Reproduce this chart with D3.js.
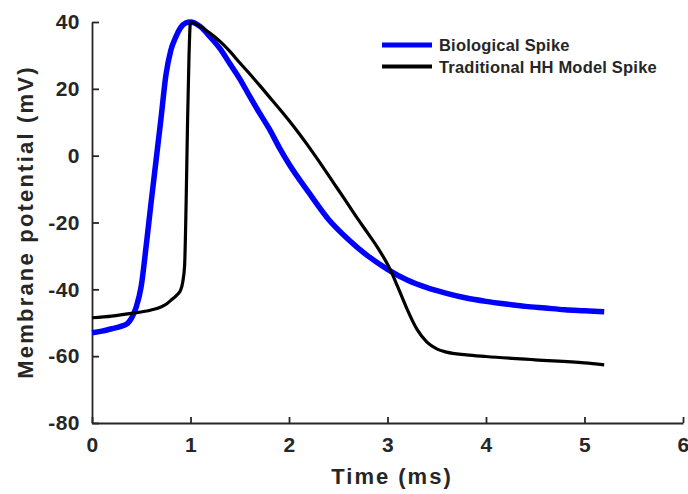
<!DOCTYPE html>
<html>
<head>
<meta charset="utf-8">
<script src="https://cdn.jsdelivr.net/npm/d3@7"></script>
<style>
  html, body { margin: 0; padding: 0; background: #fff; }
  svg { display: block; }
  text { font-family: "Liberation Sans", Arial, Helvetica, sans-serif; font-weight: bold; fill: #262626; }
</style>
</head>
<body>
<svg id="chart" width="688" height="494"></svg>
<script>
// Recorded biological action potential (time in ms, potential in mV)
const bioTime = [0, 0.1, 0.2, 0.3, 0.36, 0.40, 0.45, 0.50, 0.55, 0.60, 0.65, 0.70, 0.75, 0.80, 0.85, 0.90, 0.95, 1.00,
  1.10, 1.20, 1.30, 1.40, 1.50, 1.60, 1.70, 1.80, 1.90, 2.00, 2.20, 2.40, 2.60, 2.80, 3.00, 3.20, 3.40, 3.60, 3.80,
  4.00, 4.20, 4.40, 4.60, 4.80, 5.00, 5.20];
const bioVoltage = [-53, -52.5, -51.8, -51, -50.2, -48.7, -45.2, -39, -27, -14, -1.5, 11, 24, 31.5, 35.5, 38.3, 39.7, 40,
  38.6, 35.5, 32, 27.5, 23, 17.8, 12.8, 8, 2.5, -2.5, -11, -19, -25, -30, -34, -37.2, -39.5, -41.2, -42.6,
  -43.6, -44.4, -45.1, -45.6, -46.1, -46.4, -46.7];

// Classic Hodgkin-Huxley model spike
const hhTime = [0, 0.2, 0.4, 0.6, 0.7, 0.76, 0.82, 0.87, 0.9, 0.92, 0.94, 0.955, 0.97, 0.985, 1.00,
  1.10, 1.20, 1.30, 1.40, 1.50, 1.60, 1.70, 1.80, 1.90, 2.00, 2.10, 2.20, 2.30, 2.40, 2.50, 2.60, 2.70, 2.80, 2.90,
  3.00, 3.05, 3.10, 3.15, 3.20, 3.30, 3.40, 3.50, 3.60, 3.80, 4.00, 4.50, 5.00, 5.20];
const hhVoltage = [-48.5, -48, -47.2, -46.2, -45.3, -44.3, -42.8, -41.5, -40.2, -38, -33, -15, 10, 30, 40,
  38.6, 36.6, 34.2, 31.2, 27.8, 24.5, 21.1, 17.6, 14.1, 10.5, 6.7, 2.7, -1.5, -5.8, -10.2, -14.6, -19, -23.2, -27.5,
  -32.5, -35.5, -39, -42.5, -46, -52, -55.8, -57.8, -58.8, -59.6, -60.1, -61.1, -62, -62.6];

const xTicks = [0, 1, 2, 3, 4, 5, 6];
const yTicks = [-80, -60, -40, -20, 0, 20, 40];

const seriesNames = ["Biological Spike", "Traditional HH Model Spike"];
const seriesColors = ["#0000ff", "#000000"];

const svg = d3.select("#chart");
const margin = { left: 92, top: 22, right: 5, bottom: 71 };
const W = 688, H = 494;

const x = d3.scaleLinear().domain([0, 6]).range([margin.left, W - margin.right]);
const y = d3.scaleLinear().domain([-80, 40]).range([H - margin.bottom, margin.top]);

const axisColor = "#262626";
const plainNumber = d => String(d);

// Axes with inward ticks
const xAxis = svg.append("g")
  .attr("transform", `translate(0,${y(-80)})`)
  .call(d3.axisBottom(x).tickValues(xTicks).tickFormat(plainNumber)
    .tickSizeInner(-6).tickSizeOuter(0).tickPadding(14));
const yAxis = svg.append("g")
  .attr("transform", `translate(${x(0)},0)`)
  .call(d3.axisLeft(y).tickValues(yTicks).tickFormat(plainNumber)
    .tickSizeInner(-7).tickSizeOuter(0).tickPadding(12));

[xAxis, yAxis].forEach(g => {
  g.select(".domain").attr("stroke", axisColor).attr("stroke-width", 1.8);
  g.selectAll(".tick line").attr("stroke", axisColor).attr("stroke-width", 1.8);
  g.selectAll(".tick text")
    .style("font-family", '"Liberation Sans", Arial, sans-serif')
    .style("font-weight", "bold")
    .style("font-size", "21px")
    .style("letter-spacing", "0.5px")
    .attr("fill", axisColor);
});
xAxis.selectAll(".tick text").attr("dy", "0.71em");

// Axis titles
svg.append("text")
  .attr("x", 392).attr("y", 484)
  .attr("text-anchor", "middle")
  .style("font-size", "22px")
  .style("letter-spacing", "2px")
  .text("Time (ms)");

svg.append("text")
  .attr("transform", `translate(33,${222}) rotate(-90)`)
  .attr("text-anchor", "middle")
  .style("font-size", "22px")
  .style("letter-spacing", "2.2px")
  .text("Membrane potential (mV)");

// Traces
const line = d3.line()
  .x(d => x(d[0]))
  .y(d => y(d[1]))
  .curve(d3.curveMonotoneX);

const bio = bioTime.map((t, i) => [t, bioVoltage[i]]);
const hh = hhTime.map((t, i) => [t, hhVoltage[i]]);

svg.append("path")
  .datum(bio)
  .attr("d", line)
  .attr("fill", "none")
  .attr("stroke", seriesColors[0])
  .attr("stroke-width", 5.5)
  .attr("stroke-linejoin", "round");

svg.append("path")
  .datum(hh)
  .attr("d", line)
  .attr("fill", "none")
  .attr("stroke", seriesColors[1])
  .attr("stroke-width", 3.2)
  .attr("stroke-linejoin", "round");

// Legend
const legend = svg.append("g");
seriesNames.forEach((name, i) => {
  const ly = 45 + i * 21.5;
  legend.append("line")
    .attr("x1", 382).attr("x2", 432)
    .attr("y1", ly).attr("y2", ly)
    .attr("stroke", seriesColors[i])
    .attr("stroke-width", i === 0 ? 5 : 4);
  legend.append("text")
    .attr("x", 439).attr("y", ly + 6)
    .style("font-size", "16.5px")
    .style("letter-spacing", "0.2px")
    .attr("fill", "#1a1a1a")
    .text(name);
});
</script>
</body>
</html>
